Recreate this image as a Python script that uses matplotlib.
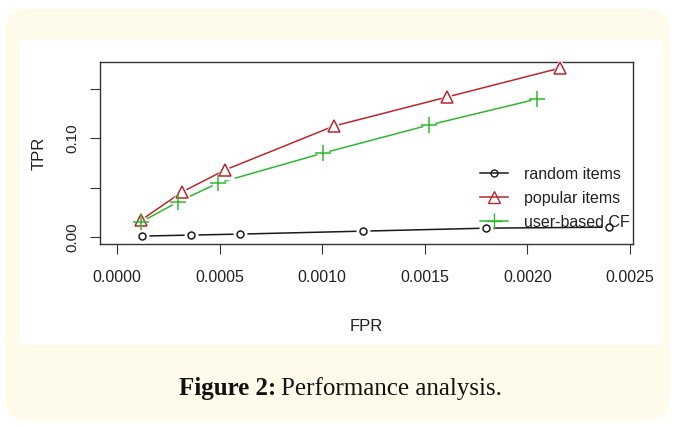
import matplotlib
matplotlib.use("Agg")
import matplotlib.pyplot as plt
from matplotlib.patches import FancyBboxPatch, Rectangle

# values
rand_fpr = [0.00012, 0.00036, 0.00060, 0.00120, 0.00180, 0.00240]
rand_tpr = [0.001, 0.002, 0.003, 0.006, 0.009, 0.010]
pop_fpr = [0.000117, 0.000317, 0.000526, 0.001057, 0.001608, 0.00216]
pop_tpr = [0.017, 0.0455, 0.0677, 0.1121, 0.1414, 0.1707]
cf_fpr = [0.000117, 0.000297, 0.000492, 0.001004, 0.00152, 0.002047]
cf_tpr = [0.0152, 0.0354, 0.0545, 0.0848, 0.1131, 0.1394]
xticks = [0.0, 0.0005, 0.0010, 0.0015, 0.0020, 0.0025]
yticks = [0.00, 0.05, 0.10, 0.15]
ylabels = ["0.00", "", "0.10", ""]

RED, GREEN, INK = "#b8282c", "#2fb82f", "#1a1a1a"
plt.rcParams["font.family"] = ["Liberation Sans", "DejaVu Sans"]

W, H = 674, 428
fig = plt.figure(figsize=(W / 100, H / 100), dpi=100)
fig.patch.set_facecolor("white")

# cream card + white panel (pixel coords)
def px(x, y, w, h):
    return (x / W, 1 - (y + h) / H, w / W, h / H)

x0, y0, w0, h0 = px(5, 9, 665, 412)
fig.patches.append(FancyBboxPatch((x0, y0), w0, h0, boxstyle="round,pad=0,rounding_size=0.035",
                                  transform=fig.transFigure, fc="#fffbea", ec="none", zorder=0,
                                  mutation_aspect=W / H))
x1, y1, w1, h1 = px(20, 40, 643, 305)
fig.patches.append(Rectangle((x1, y1), w1, h1, transform=fig.transFigure,
                             fc="white", ec="none", zorder=0))

ax = fig.add_axes(px(100, 62, 533, 182))
ax.set_zorder(3)
ax.set_facecolor("white")

def rline(x, y, c, m, ms, label):
    ax.plot(x, y, color=c, lw=1.1, zorder=2)
    if m != "+":
        ax.plot(x, y, ls="none", marker=m, ms=ms + 4, mfc="white", mec="white", zorder=3)
    else:
        ax.plot(x, y, ls="none", marker="o", ms=ms - 3, mfc="white", mec="white", zorder=3)
    ax.plot(x, y, ls="none", marker=m, ms=ms, mfc="none", mec=c, mew=1.1, zorder=4)
    ax.plot([], [], color=c, lw=1.1, marker=m, ms=ms, mfc="none", mec=c, label=label)

rline(rand_fpr, rand_tpr, INK, "o", 5, "random items")
rline(pop_fpr, pop_tpr, RED, "^", 9, "popular items")
rline(cf_fpr, cf_tpr, GREEN, "+", 11, "user-based CF")

ax.set_xlim(-0.0000826, 0.002515)
ax.set_ylim(-0.007, 0.1768)
ax.set_xticks(xticks)
ax.set_xticklabels([f"{v:.4f}" for v in xticks], fontsize=11.5, color="#222222")
ax.set_yticks(yticks)
ax.set_yticklabels(ylabels, fontsize=11, rotation=90, va="center", color="#222222")
ax.tick_params(axis="x", length=7, pad=12, color="#333333")
ax.tick_params(axis="y", length=7, pad=8, color="#333333")
for sp in ax.spines.values():
    sp.set_color("#333333"); sp.set_linewidth(1.0)

ax.set_xlabel("FPR", fontsize=12, color="#222222", labelpad=24)
ax.set_ylabel("TPR", fontsize=12, color="#222222", labelpad=13)

leg = ax.legend(loc="lower right", bbox_to_anchor=(1.02, 0.0), frameon=False,
                fontsize=11.5, handlelength=1.7, handletextpad=1.0, labelspacing=0.55)
for t in leg.get_texts():
    t.set_color("#222222")

fig.text(276 / W, 1 - 389 / H, "Figure 2:", ha="right", va="center", fontsize=18,
         family="Liberation Serif", weight="bold", color="#111111")
fig.text(281 / W, 1 - 389 / H, "Performance analysis.", ha="left", va="center", fontsize=18,
         family="Liberation Serif", color="#111111")

plt.savefig("out.png", dpi=100, facecolor="white")
